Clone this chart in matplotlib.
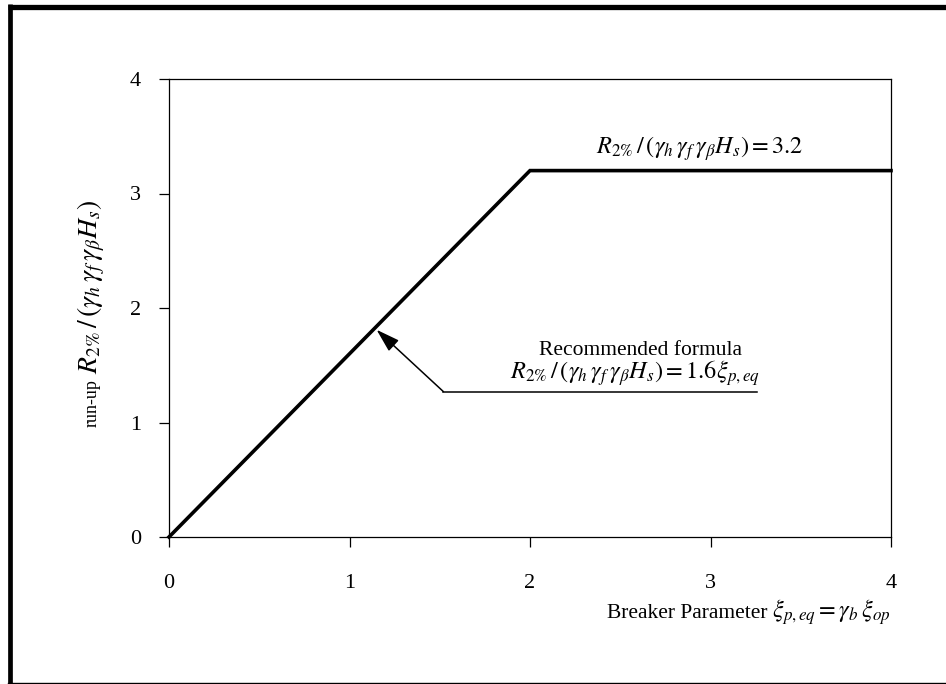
import matplotlib
matplotlib.use("Agg")
import matplotlib.pyplot as plt
from matplotlib.lines import Line2D

plt.rcParams["font.family"] = ["Liberation Serif", "DejaVu Serif"]
plt.rcParams["mathtext.fontset"] = "stix"

# run-up curve: linear rise then plateau
xi = [0, 2, 4]
runup = [0, 3.2, 3.2]

# pointer from the formula label to the line
pointer_x = [3.255, 1.52]
pointer_y = [1.27, 1.27]
pointer_tip = (1.15, 1.81)

ticks = [0, 1, 2, 3, 4]

INK = "black"
W, H = 946, 684
MATH_FS = 17.5

fig = plt.figure(figsize=(W / 100, H / 100), dpi=100)
ax = fig.add_axes([169 / W, 1 - 537 / H, (891 - 169) / W, (537 - 79) / H])

ax.plot(xi, runup, color=INK, linewidth=2.6, solid_joinstyle="miter", clip_on=False)

ax.plot(pointer_x, pointer_y, color=INK, linewidth=1.1)
ax.annotate(
    "", xy=pointer_tip, xytext=(pointer_x[-1], pointer_y[-1]),
    arrowprops={"arrowstyle": "-|>,head_length=1.45,head_width=0.45",
                "color": INK, "linewidth": 1.1, "shrinkA": 0, "shrinkB": 0},
)

ax.text(2.94, 3.39, r"$R_{2\%}\,/\,(\gamma_h\,\gamma_f\,\gamma_\beta H_s) = \mathit{3.2}$",
        ha="center", va="center", fontsize=MATH_FS)
ax.text(2.61, 1.63, "Recommended formula", ha="center", va="center", fontsize=15.5)
ax.text(2.58, 1.43, r"$R_{2\%}\,/\,(\gamma_h\,\gamma_f\,\gamma_\beta H_s) = \mathit{1.6}\xi_{p,eq}$",
        ha="center", va="center", fontsize=MATH_FS)

ax.set_xlim(0, 4)
ax.set_ylim(0, 4)
ax.set_xticks(ticks)
ax.set_yticks(ticks)
ax.tick_params(direction="out", length=7, width=0.9, labelsize=16, colors=INK)
ax.tick_params(axis="x", pad=20)
ax.tick_params(axis="y", pad=13)
for s in ax.spines.values():
    s.set_linewidth(0.9)

# axis titles: plain words and formula at different sizes, baselines shared
fig.canvas.draw()
rend = fig.canvas.get_renderer()

xl_math = fig.text(891 / W, 1 - 618 / H, r"$\xi_{p,eq} = \gamma_b\,\xi_{op}$",
                   ha="right", va="baseline", fontsize=MATH_FS)
mw = xl_math.get_window_extent(rend).width
fig.text((891 - mw - 5) / W, 1 - 618 / H, "Breaker Parameter",
         ha="right", va="baseline", fontsize=15.5)

yl_plain = fig.text(97 / W, 1 - 427 / H, "run-up", rotation=90, rotation_mode="anchor",
                    ha="left", va="baseline", fontsize=13)
ph = yl_plain.get_window_extent(rend).height
fig.text(97 / W, 1 - (427 - ph - 5) / H, r"$R_{2\%}\,/\,(\gamma_h\,\gamma_f\,\gamma_\beta H_s)$",
         rotation=90, rotation_mode="anchor", ha="left", va="baseline", fontsize=20)

# outer frame: heavy on left/top, hairline at the bottom
fig.add_artist(Line2D([8 / W, 1], [1 - 6.5 / H] * 2, transform=fig.transFigure,
                      color=INK, linewidth=3.8, solid_capstyle="butt"))
fig.add_artist(Line2D([10 / W] * 2, [0, 1 - 4 / H], transform=fig.transFigure,
                      color=INK, linewidth=3.4, solid_capstyle="butt"))
fig.add_artist(Line2D([8 / W, 1], [1.5 / H] * 2, transform=fig.transFigure,
                      color=INK, linewidth=1.0))

fig.savefig("out.png", dpi=100)
